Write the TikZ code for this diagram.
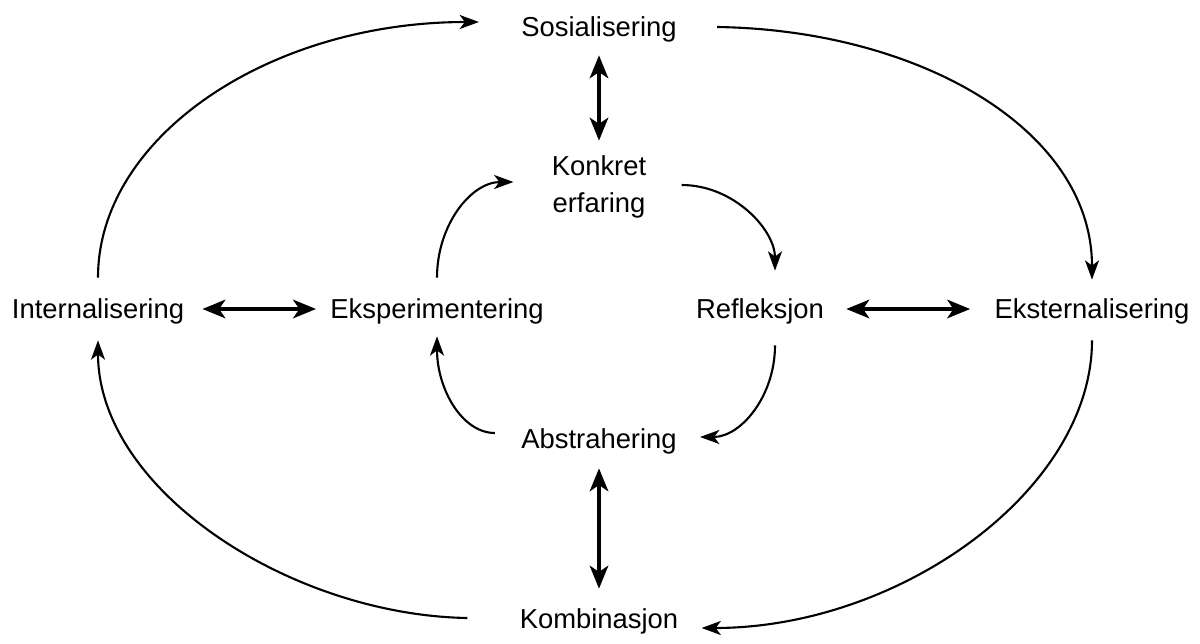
\documentclass[tikz,border=0pt]{standalone}
\usepackage{fontspec}
\setmainfont{Liberation Sans}
\usetikzlibrary{arrows.meta,calc}
\begin{document}
\begin{tikzpicture}[x=0.02cm,y=-0.02cm,
  lbl/.style={inner sep=0pt,font=\fontsize{15.6}{20.8}\selectfont,text height=11.5pt,text depth=3.3pt},
  thinarr/.style={line width=1.2pt,-{Stealth[length=11pt,width=8pt,inset=3pt]}},
  thickarr/.style={line width=2.2pt,{Stealth[length=13pt,width=10.5pt,inset=3.5pt]}-{Stealth[length=13pt,width=10.5pt,inset=3.5pt]}}]
\useasboundingbox (0,0) rectangle (1200,643);
\node[lbl] (sos) at (599,29) {Sosialisering};
\node[lbl,align=center,text height=,text depth=] (konk) at (599,187) {Konkret\\erfaring};
\node[lbl] (int) at (98,311) {Internalisering};
\node[lbl] (eksp) at (437,311) {Eksperimentering};
\node[lbl] (ref) at (760,311) {Refleksjon};
\node[lbl] (ekst) at (1092,311) {Eksternalisering};
\node[lbl] (abs) at (599,441) {Abstrahering};
\node[lbl] (komb) at (599,621) {Kombinasjon};
% double arrows
\draw[thickarr] ($(sos.south)+(0,13)$) -- ($(konk.north)+(0,-15)$);
\draw[thickarr] ($(abs.south)+(0,14)$) -- ($(komb.north)+(0,-19)$);
\draw[thickarr] ($(int.east)+(18,-2)$) -- ($(eksp.west)+(-14,-2)$);
\draw[thickarr] ($(ref.east)+(22,-2)$) -- ($(ekst.west)+(-24,-2)$);
% outer arcs
\draw[thinarr] ($(int.north)+(0,-20)$) .. controls (98,137) and (269,22) .. ($(sos.west)+(-42,-7)$);
\draw[thinarr] ($(sos.east)+(40,-2)$) .. controls (920,30) and (1092,130) .. ($(ekst.north)+(0,-18)$);
\draw[thinarr] ($(ekst.south)+(0,16)$) .. controls (1092,490) and (900,628) .. ($(komb.east)+(23,7)$);
\draw[thinarr] ($(komb.west)+(-52,-3)$) .. controls (290,615) and (98,490) .. ($(int.south)+(0,16)$);
% inner arcs
\draw[thinarr] ($(eksp.north)+(0,-20)$) .. controls (437,225) and (471,182) .. ($(konk.west)+(-38,-5)$);
\draw[thinarr] ($(konk.east)+(35,-2)$) .. controls (734,185) and (775,230) .. ($(ref.north)+(15,-27)$);
\draw[thinarr] ($(ref.south)+(15,21)$) .. controls (775,396) and (741,437) .. ($(abs.east)+(23,-4)$);
\draw[thinarr] ($(abs.west)+(-26,-8)$) .. controls (462,433) and (437,389) .. ($(eksp.south)+(0,12)$);
\end{tikzpicture}
\end{document}
